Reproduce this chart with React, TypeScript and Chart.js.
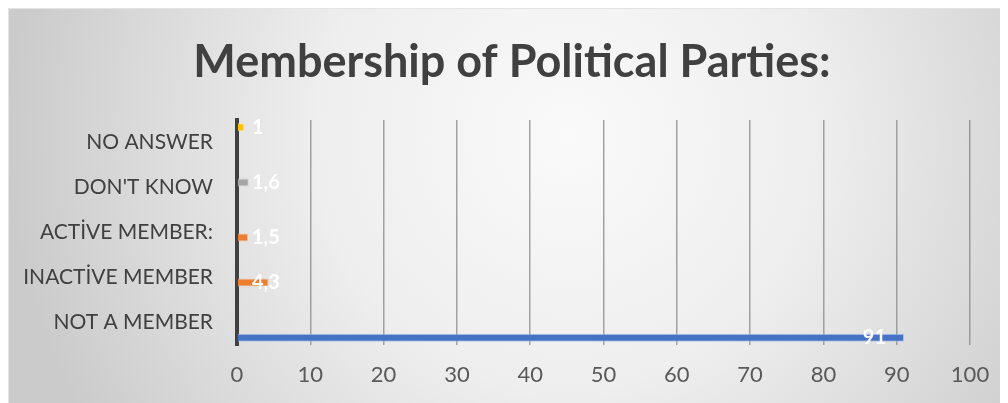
import React, { useEffect, useRef } from "react";
import { Chart, registerables } from "chart.js";

Chart.register(...registerables);

// Survey categories, top to bottom
const categories = ["NO ANSWER", "DON'T KNOW", "ACTİVE MEMBER:", "INACTİVE MEMBER", "NOT A MEMBER"];

// One series per colour group; null keeps the slot empty in that category
const noAnswerValues = [1, null, null, null, null];
const dontKnowValues = [null, 1.6, null, null, null];
const memberValues = [null, null, 1.5, 4.3, null];
const notMemberValues = [null, null, null, null, 91];

const xTickValues = [0, 10, 20, 30, 40, 50, 60, 70, 80, 90, 100];

const TITLE = "Membership of Political Parties:";
const FONT = "Lato, 'Open Sans', sans-serif";

const formatValue = (v: number) => String(v).replace(".", ",");

// Soft radial background behind the whole chart
const backgroundPlugin = {
  id: "radialBackground",
  beforeDraw(chart: any) {
    const { ctx, width, height } = chart;
    ctx.save();
    const g = ctx.createRadialGradient(width * 0.56, height * 0.33, 0, width * 0.56, height * 0.33, width * 0.56);
    g.addColorStop(0, "#fafafa");
    g.addColorStop(0.45, "#eeeeee");
    g.addColorStop(1, "#cbcbcb");
    ctx.fillStyle = g;
    ctx.fillRect(0, 0, width, height);
    ctx.strokeStyle = "#e4e4e4";
    ctx.lineWidth = 1;
    ctx.beginPath();
    ctx.moveTo(0.5, height);
    ctx.lineTo(0.5, 0.5);
    ctx.lineTo(width, 0.5);
    ctx.stroke();
    ctx.restore();
  },
};

// Title centred over the whole chart box
const titlePlugin = {
  id: "centredTitle",
  afterDraw(chart: any) {
    const { ctx, width } = chart;
    ctx.save();
    ctx.font = `bold 45px ${FONT}`;
    ctx.fillStyle = "#404040";
    ctx.textAlign = "center";
    ctx.textBaseline = "middle";
    ctx.fillText(TITLE, width / 2 + 4, 54);
    ctx.restore();
  },
};

// White value labels on the bars
const valueLabelPlugin = {
  id: "valueLabels",
  afterDatasetsDraw(chart: any) {
    const { ctx } = chart;
    const zero = chart.scales.x.getPixelForValue(0);
    ctx.save();
    ctx.font = `bold 20px ${FONT}`;
    ctx.fillStyle = "#ffffff";
    ctx.textBaseline = "middle";
    chart.data.datasets.forEach((ds: any, di: number) => {
      const meta = chart.getDatasetMeta(di);
      meta.data.forEach((bar: any, i: number) => {
        const v = ds.data[i];
        if (v === null || v === undefined) return;
        const text = formatValue(v);
        if (bar.x - zero > 100) {
          ctx.textAlign = "right";
          ctx.fillText(text, bar.x - 18, bar.y);
        } else {
          ctx.textAlign = "left";
          ctx.fillText(text, zero + 15, bar.y);
        }
      });
    });
    ctx.restore();
  },
};

export default function App() {
  const canvasRef = useRef<HTMLCanvasElement | null>(null);

  useEffect(() => {
    if (!canvasRef.current) return;
    Chart.defaults.font.family = FONT;

    const mk = (label: string, data: (number | null)[], color: string, edge: string) => ({
      label,
      data,
      backgroundColor: color,
      borderColor: edge,
      borderWidth: 1,
      categoryPercentage: 0.9,
      barPercentage: 0.78,
    });

    const chart = new Chart(canvasRef.current, {
      type: "bar",
      data: {
        labels: categories,
        datasets: [
          mk("No answer", noAnswerValues, "#FFC000", "rgba(255,226,150,0.9)"),
          mk("Don't know", dontKnowValues, "#A5A5A5", "rgba(210,210,210,0.9)"),
          mk("Member", memberValues, "#ED7D31", "rgba(246,190,150,0.9)"),
          mk("Not a member", notMemberValues, "#4472C4", "rgba(170,195,235,0.9)"),
        ] as any,
      },
      options: {
        indexAxis: "y",
        animation: false,
        responsive: false,
        layout: { padding: { left: 0, right: 38, top: 112, bottom: 0 } },
        plugins: {
          legend: { display: false },
          tooltip: { enabled: false },
          title: { display: false },
        },
        scales: {
          x: {
            min: 0,
            max: 100,
            afterBuildTicks(scale: any) {
              scale.ticks = xTickValues.map((v) => ({ value: v }));
            },
            afterFit(scale: any) {
              scale.height = 58;
            },
            grid: { color: "rgba(135,135,135,0.75)", lineWidth: 1.5, drawTicks: false },
            border: { display: false },
            ticks: { color: "#595959", font: { size: 22, family: FONT }, padding: 17, maxRotation: 0 },
          },
          y: {
            afterFit(scale: any) {
              scale.width = 229;
            },
            grid: { display: false, drawTicks: false },
            border: { display: true, color: "#404040", width: 4 },
            ticks: { color: "#404040", font: { size: 21, family: FONT }, padding: 24 },
          },
        },
      } as any,
      plugins: [backgroundPlugin, valueLabelPlugin, titlePlugin],
    });

    return () => chart.destroy();
  }, []);

  return <canvas ref={canvasRef} width={1000} height={395} style={{ display: "block" }} />;
}
